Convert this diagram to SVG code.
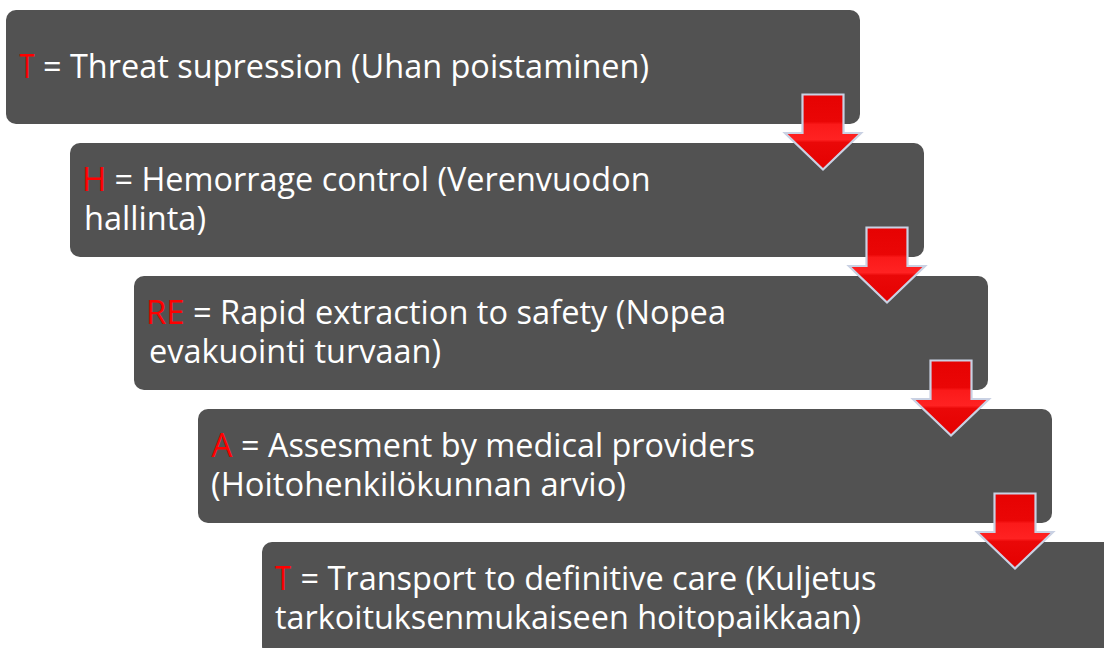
<svg xmlns="http://www.w3.org/2000/svg" width="1104" height="648" viewBox="0 0 1104 648">
  <defs>
    <style>
      .box { fill: #525252; }
      .txt { font-family: "Open Sans", "Noto Sans", "Liberation Sans", sans-serif; font-size: 33px; fill: #ffffff; }
      .key { fill: #ff0000; }
      .arrow { fill: url(#redBand); stroke: #c9d1e3; stroke-width: 2.2; stroke-linejoin: miter; }
    </style>
    <linearGradient id="redBand" x1="0" y1="0" x2="0" y2="1">
      <stop offset="0" stop-color="#e60202"/>
      <stop offset="0.36" stop-color="#ea0606"/>
      <stop offset="0.40" stop-color="#fb1a1a"/>
      <stop offset="0.60" stop-color="#ff2222"/>
      <stop offset="0.64" stop-color="#ea0808"/>
      <stop offset="1" stop-color="#e40000"/>
    </linearGradient>
    <!-- down arrow, tip at (0,0) -->
    <path id="downArrow" class="arrow" d="M -20.5 -75 L 20.5 -75 L 20.5 -36.5 L 38 -36.5 L 0 0 L -38 -36.5 L -20.5 -36.5 Z"/>
  </defs>

  <rect width="1104" height="648" fill="#ffffff"/>

  <g id="step-threat">
    <rect class="box" x="6" y="10" width="854" height="114" rx="10"/>
    <text class="txt key" x="19.5" y="78" textLength="15" lengthAdjust="spacingAndGlyphs">T</text>
    <text class="txt" x="43" y="78" textLength="606" lengthAdjust="spacingAndGlyphs">= Threat supression (Uhan poistaminen)</text>
  </g>

  <g id="step-hemorrage">
    <rect class="box" x="70" y="143" width="854" height="114" rx="10"/>
    <text class="txt key" x="82" y="191">H</text>
    <text class="txt" x="114.5" y="191" textLength="536" lengthAdjust="spacingAndGlyphs">= Hemorrage control (Verenvuodon</text>
    <text class="txt" x="84" y="229.5" textLength="122" lengthAdjust="spacingAndGlyphs">hallinta)</text>
  </g>

  <g id="step-extraction">
    <rect class="box" x="134" y="276" width="854" height="114" rx="10"/>
    <text class="txt key" x="146" y="324">RE</text>
    <text class="txt" x="193" y="324" textLength="533" lengthAdjust="spacingAndGlyphs">= Rapid extraction to safety (Nopea</text>
    <text class="txt" x="149" y="362.5" textLength="292" lengthAdjust="spacingAndGlyphs">evakuointi turvaan)</text>
  </g>

  <g id="step-assesment">
    <rect class="box" x="198" y="409" width="854" height="114" rx="10"/>
    <text class="txt key" x="211.5" y="457">A</text>
    <text class="txt" x="241" y="457" textLength="514" lengthAdjust="spacingAndGlyphs">= Assesment by medical providers</text>
    <text class="txt" x="211" y="495.5" textLength="415" lengthAdjust="spacingAndGlyphs">(Hoitohenkilökunnan arvio)</text>
  </g>

  <g id="step-transport">
    <rect class="box" x="262" y="542" width="854" height="114" rx="10"/>
    <text class="txt key" x="275" y="590" textLength="16" lengthAdjust="spacingAndGlyphs">T</text>
    <text class="txt" x="300.5" y="590" textLength="576" lengthAdjust="spacingAndGlyphs">= Transport to definitive care (Kuljetus</text>
    <text class="txt" x="275" y="628.5" textLength="586" lengthAdjust="spacingAndGlyphs">tarkoituksenmukaiseen hoitopaikkaan)</text>
  </g>

  <g id="connectors">
    <use href="#downArrow" x="823" y="169.5"/>
    <use href="#downArrow" x="887" y="302.5"/>
    <use href="#downArrow" x="951" y="435.5"/>
    <use href="#downArrow" x="1015" y="568.5"/>
  </g>
</svg>
